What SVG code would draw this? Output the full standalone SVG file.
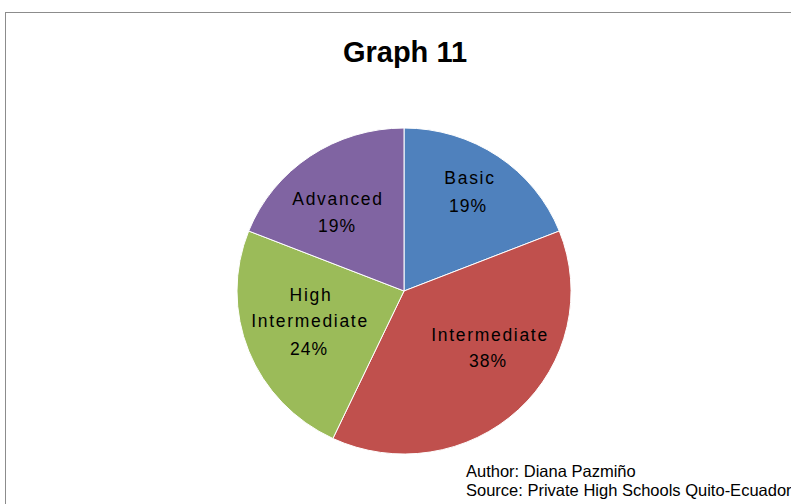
<svg xmlns="http://www.w3.org/2000/svg" width="791" height="504" viewBox="0 0 791 504">
<style>
.lbl{font-family:"Liberation Sans",Arial,sans-serif;font-size:17.5px;fill:#000;text-anchor:middle;letter-spacing:1.7px}
.pct{font-family:"Liberation Sans",Arial,sans-serif;font-size:17.5px;fill:#000;text-anchor:middle;letter-spacing:1px}
.sl{stroke:#fff;stroke-width:1;stroke-linejoin:round}
</style>
<rect x="0" y="0" width="791" height="504" fill="#fff"/>
<rect x="5.5" y="12.5" width="800" height="510" fill="#fff" stroke="#8c8c8c" stroke-width="1"/>
<text x="405" y="62" font-family="'Liberation Sans',Arial,sans-serif" font-size="29" font-weight="bold" text-anchor="middle" fill="#000">Graph 11</text>
<g id="basic">
<path class="sl" d="M404,291 L404,128 A167,163 0 0 1 559.3,231 Z" fill="#4F81BD"/>
<text class="lbl" x="470" y="184">Basic</text>
<text class="pct" x="468" y="212">19%</text>
</g>
<g id="intermediate">
<path class="sl" d="M404,291 L559.3,231 A167,163 0 0 1 332.9,438.5 Z" fill="#C0504D"/>
<text class="lbl" x="490" y="341">Intermediate</text>
<text class="pct" x="488" y="367">38%</text>
</g>
<g id="high-intermediate">
<path class="sl" d="M404,291 L332.9,438.5 A167,163 0 0 1 248.7,231 Z" fill="#9BBB59"/>
<text class="lbl" x="311" y="301">High</text>
<text class="lbl" x="310" y="327">Intermediate</text>
<text class="pct" x="309" y="355">24%</text>
</g>
<g id="advanced">
<path class="sl" d="M404,291 L248.7,231 A167,163 0 0 1 404,128 Z" fill="#8064A2"/>
<text class="lbl" x="338" y="205">Advanced</text>
<text class="pct" x="337" y="232">19%</text>
</g>
<g id="connectors"></g>
<g id="footer" font-family="'Liberation Sans',Arial,sans-serif" font-size="16.5" fill="#000">
<text x="466" y="477">Author: Diana Pazmiño</text>
<text x="466" y="496">Source: Private High Schools Quito-Ecuador</text>
</g>
</svg>
